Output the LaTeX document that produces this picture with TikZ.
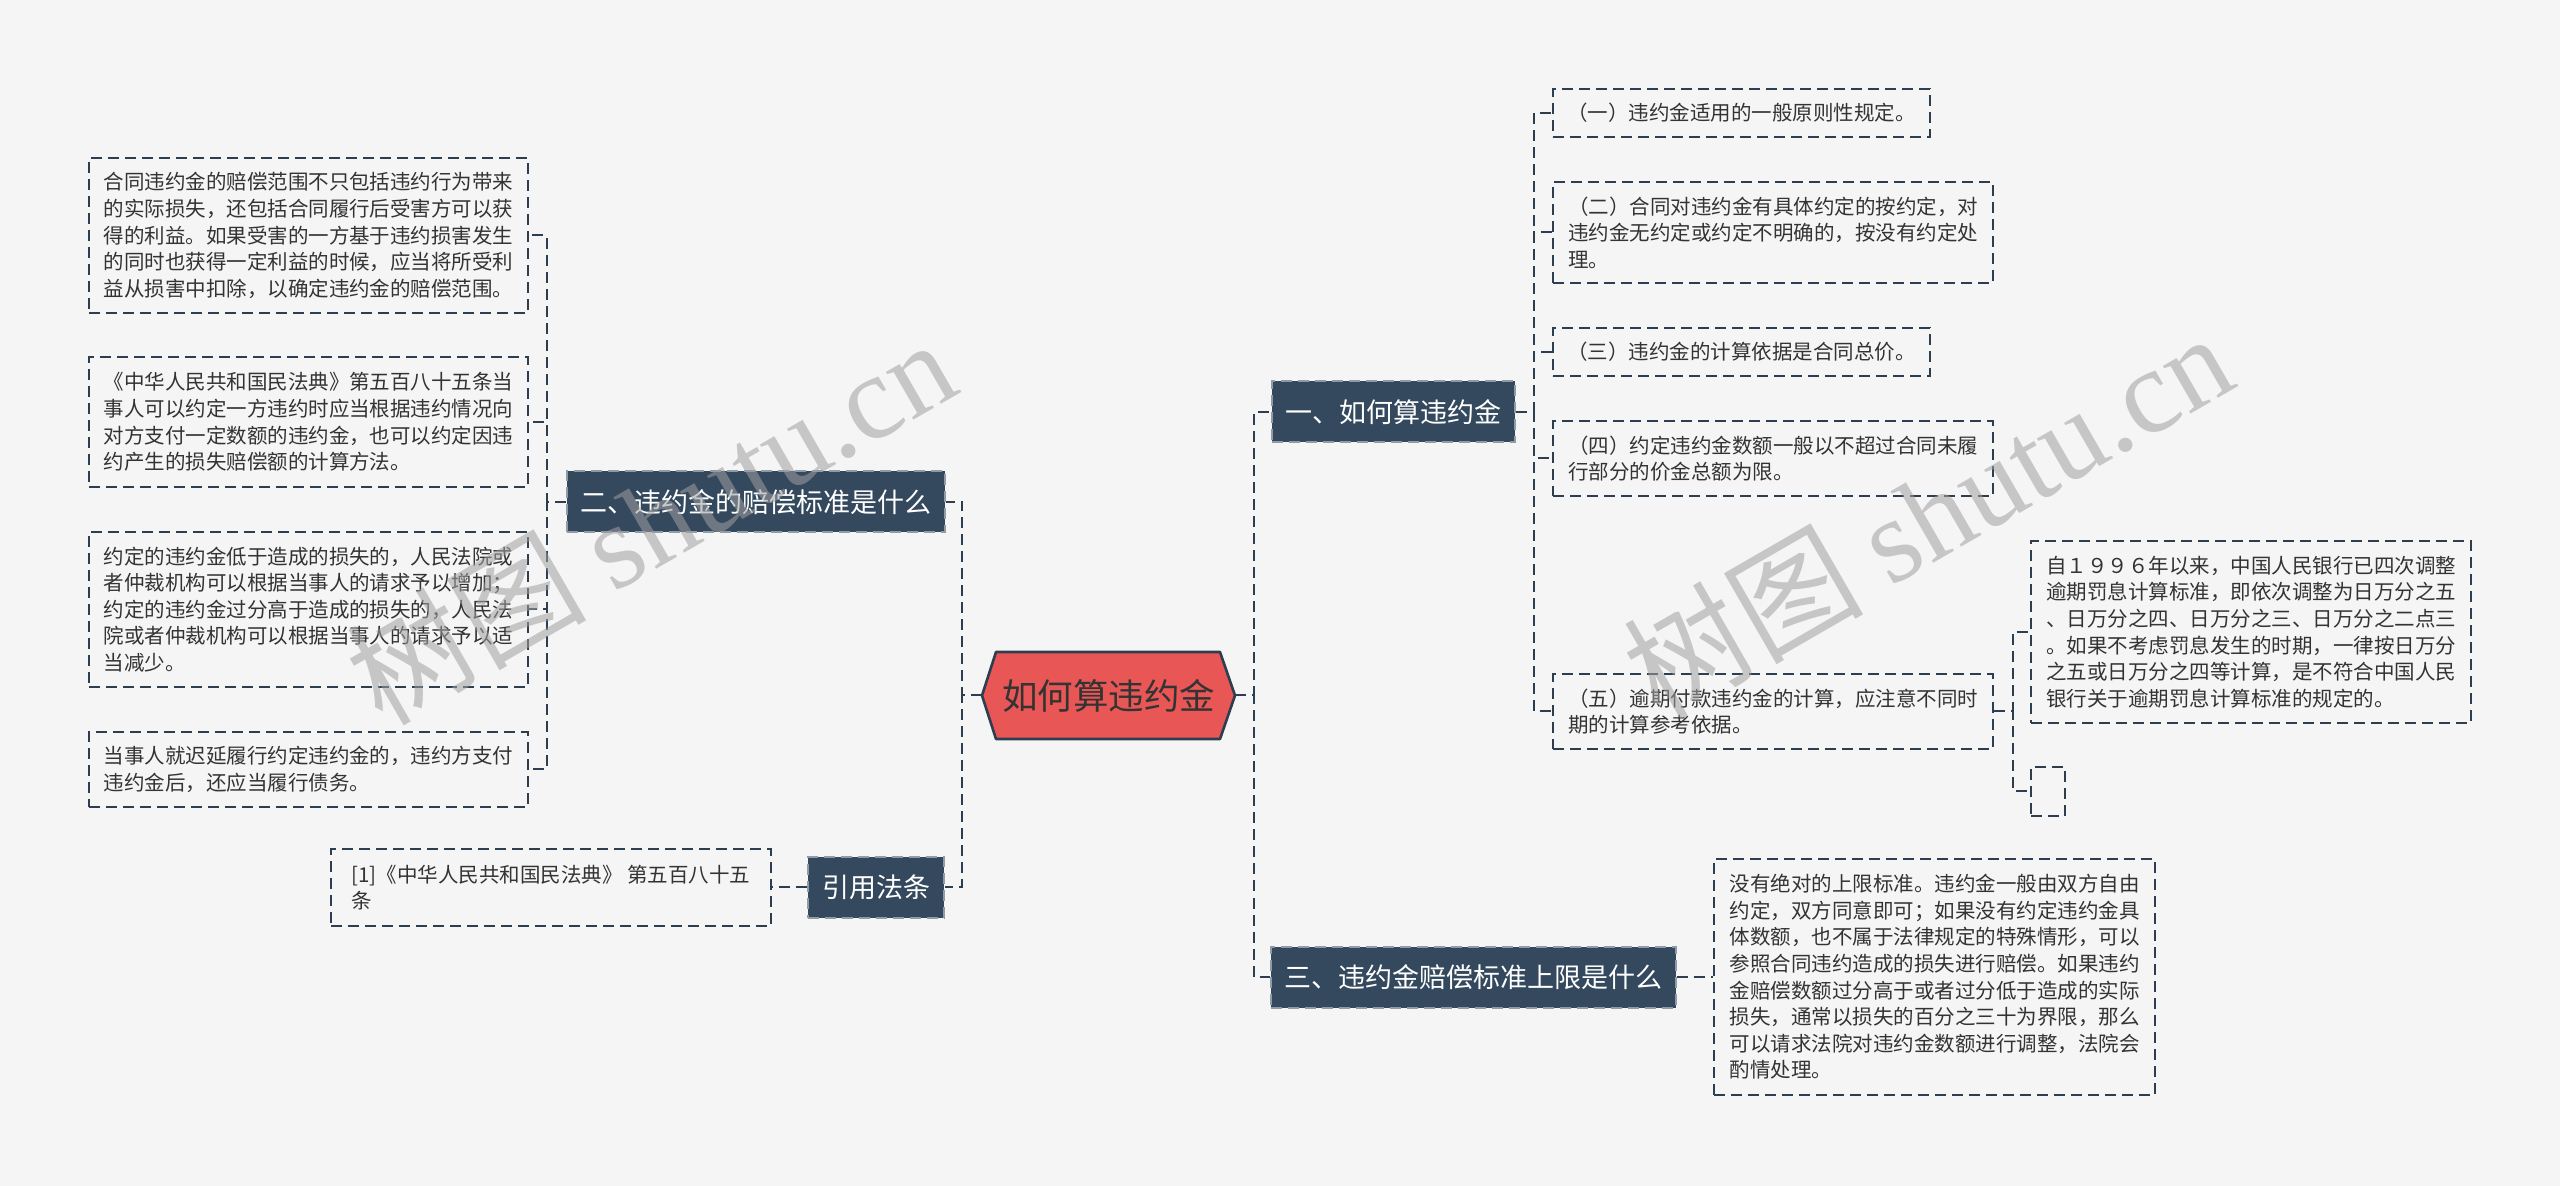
\documentclass[tikz,border=0pt]{standalone}
\usepackage{fontspec}
\setmainfont{Noto Sans CJK SC}
\newfontfamily\cjk{Noto Sans CJK SC}
\newfontfamily\wmfont{Liberation Serif}
\usetikzlibrary{positioning,backgrounds}
\definecolor{bgc}{HTML}{F5F5F5}
\definecolor{navy}{HTML}{34495E}
\definecolor{edge}{HTML}{2C3E50}
\definecolor{rootred}{HTML}{E85656}
\definecolor{ink}{HTML}{333333}
\definecolor{wmgray}{HTML}{A0A0A0}

\begin{document}
\begin{tikzpicture}[x=0.5pt,y=-0.5pt,line width=1pt,
 dsh/.style={dash pattern=on 5.5pt off 3pt},
 link/.style={draw=edge,dsh},
 topic/.style={fill=navy,draw=navy!55!white,dsh,text=white,inner xsep=6.75pt,minimum height=30.5pt,
   font=\fontsize{13.5pt}{16pt}\selectfont},
 note/.style={draw=edge,dsh,fill=bgc,text=ink,align=left,inner xsep=7pt,inner ysep=3pt,
   font=\fontsize{10.25pt}{13.3pt}\selectfont},
 hexa/.style={fill=rootred,draw=edge,line width=1.3pt,line join=round},
 wmark/.style={text=wmgray,text opacity=.55,rotate=30,font=\fontsize{60pt}{60pt}\selectfont}]
\useasboundingbox (0,0) rectangle (2560,1186);
\begin{scope}[on background layer]
\fill[bgc] (0,0) rectangle (2560,1186);
\end{scope}

% root
\node[minimum width=125.5pt,minimum height=42.5pt,text=ink,font=\fontsize{17.75pt}{20pt}\selectfont] (root) at (1108.5,695.5) {如何算违约金};
\begin{scope}[on background layer]
\draw[hexa] (root.west) -- ([xshift=7pt]root.north west) -- ([xshift=-7.5pt]root.north east) -- (root.east)
 -- ([xshift=-7.5pt]root.south east) -- ([xshift=7pt]root.south west) -- cycle;
\end{scope}

% left side
\node[topic,minimum width=188.5pt] (b2) at (755.5,502) {二、违约金的赔偿标准是什么};
\node[topic,minimum width=68pt] (cite) at (876,887.5) {引用法条};

\node[note,minimum width=219.5pt,minimum height=77.5pt] (L1) at (308.5,235.5) {合同违约金的赔偿范围不只包括违约行为带来\\的实际损失，还包括合同履行后受害方可以获\\得的利益。如果受害的一方基于违约损害发生\\的同时也获得一定利益的时候，应当将所受利\\益从损害中扣除，以确定违约金的赔偿范围。};
\node[note,minimum width=219.5pt,minimum height=65pt] (L2) at (308.5,422) {《中华人民共和国民法典》第五百八十五条当\\事人可以约定一方违约时应当根据违约情况向\\对方支付一定数额的违约金，也可以约定因违\\约产生的损失赔偿额的计算方法。};
\node[note,minimum width=219.5pt,minimum height=77.5pt] (L3) at (308.5,609.5) {约定的违约金低于造成的损失的，人民法院或\\者仲裁机构可以根据当事人的请求予以增加；\\约定的违约金过分高于造成的损失的，人民法\\院或者仲裁机构可以根据当事人的请求予以适\\当减少。};
\node[note,minimum width=219.5pt,minimum height=37.5pt] (L4) at (308.5,769.5) {当事人就迟延履行约定违约金的，违约方支付\\违约金后，还应当履行债务。};
\node[note,minimum width=220pt,minimum height=38.5pt] (ref) at (551,887.5) {[1]《中华人民共和国民法典》 第五百八十五\\条};

% right side
\node[topic,minimum width=121.5pt] (b1) at (1393.5,412) {一、如何算违约金};
\node[topic,minimum width=201pt] (b3) at (1473,977) {三、违约金赔偿标准上限是什么};

\node[note,minimum width=188.5pt,minimum height=24pt] (R1) at (1741.5,113) {（一）违约金适用的一般原则性规定。};
\node[note,minimum width=220pt,minimum height=50.5pt] (R2) at (1773,232.5) {（二）合同对违约金有具体约定的按约定，对\\违约金无约定或约定不明确的，按没有约定处\\理。};
\node[note,minimum width=188.5pt,minimum height=24pt] (R3) at (1741.5,352) {（三）违约金的计算依据是合同总价。};
\node[note,minimum width=220pt,minimum height=37.5pt] (R4) at (1773,458.5) {（四）约定违约金数额一般以不超过合同未履\\行部分的价金总额为限。};
\node[note,minimum width=220pt,minimum height=37.5pt] (R5) at (1773,711.5) {（五）逾期付款违约金的计算，应注意不同时\\期的计算参考依据。};
\node[note,minimum width=220pt,minimum height=91pt] (R6) at (2251,632) {自１９９６年以来，中国人民银行已四次调整\\逾期罚息计算标准，即依次调整为日万分之五\\、日万分之四、日万分之三、日万分之二点三\\。如果不考虑罚息发生的时期，一律按日万分\\之五或日万分之四等计算，是不符合中国人民\\银行关于逾期罚息计算标准的规定的。};
\node[note,inner sep=0pt,minimum width=17pt,minimum height=24.5pt] (R7) at (2048,791.5) {};
\node[note,minimum width=220.5pt,minimum height=118pt] (R8) at (1934.5,977) {没有绝对的上限标准。违约金一般由双方自由\\约定，双方同意即可；如果没有约定违约金具\\体数额，也不属于法律规定的特殊情形，可以\\参照合同违约造成的损失进行赔偿。如果违约\\金赔偿数额过分高于或者过分低于造成的实际\\损失，通常以损失的百分之三十为界限，那么\\可以请求法院对违约金数额进行调整，法院会\\酌情处理。};

% connectors
\draw[link] (root.west) -- ++(-20,0) |- (b2.east);
\draw[link] (root.west) -- ++(-20,0) |- (cite.east);
\draw[link] (root.east) -- ++(19,0) |- (b1.west);
\draw[link] (root.east) -- ++(19,0) |- (b3.west);
\foreach \n in {L1,L2,L3,L4}
  \draw[link] (b2.west) -- ++(-19,0) |- (\n.east);
\draw[link] (cite.west) -- (ref.east);
\foreach \n in {R1,R2,R3,R4,R5}
  \draw[link] (b1.east) -- ++(18,0) |- (\n.west);
\draw[link] (R5.east) -- ++(19,0) |- (R6.west);
\draw[link] (R5.east) -- ++(19,0) |- (R7.west);
\draw[link] (b3.east) -- (R8.west);

% watermarks
\node[wmark] (wm1) at (650,520) {{\cjk 树图} {\wmfont shutu.cn}};
\node[wmark] (wm2) at (1927,514) {{\cjk 树图} {\wmfont shutu.cn}};
\end{tikzpicture}
\end{document}
